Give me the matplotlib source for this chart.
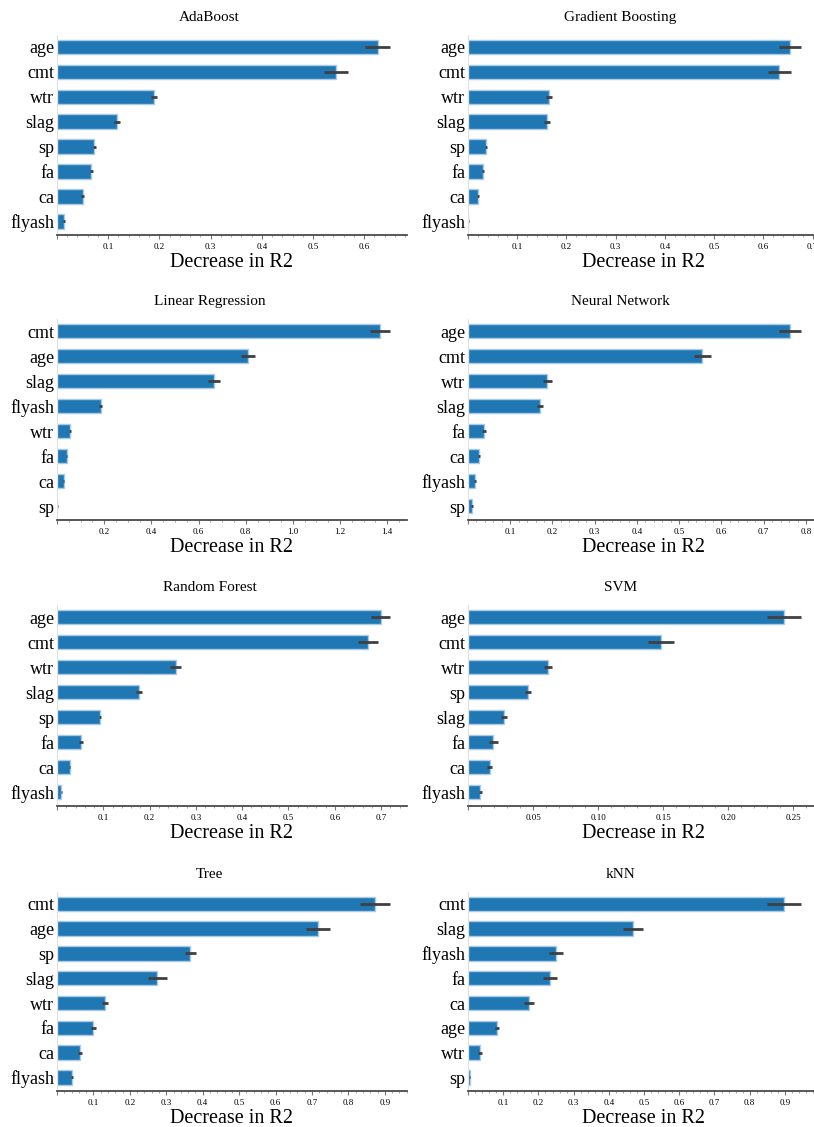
import numpy as np
import matplotlib
matplotlib.use("Agg")
import matplotlib.pyplot as plt
from matplotlib.ticker import AutoMinorLocator, MaxNLocator, ScalarFormatter

plt.rcParams['font.family'] = ['Liberation Serif', 'DejaVu Serif']

# permutation importance per model: feature order, mean drop in R2, spread
ada_feats = ["age", "cmt", "wtr", "slag", "sp", "fa", "ca", "flyash"]
ada_vals = [0.626, 0.545, 0.190, 0.117, 0.073, 0.067, 0.050, 0.014]
ada_errs = [0.025, 0.023, 0.006, 0.006, 0.003, 0.003, 0.003, 0.002]

gb_feats = ["age", "cmt", "wtr", "slag", "sp", "fa", "ca", "flyash"]
gb_vals = [0.654, 0.632, 0.164, 0.160, 0.036, 0.030, 0.021, 0.001]
gb_errs = [0.023, 0.023, 0.006, 0.006, 0.002, 0.002, 0.002, 0.0005]

lr_feats = ["cmt", "age", "slag", "flyash", "wtr", "fa", "ca", "sp"]
lr_vals = [1.369, 0.811, 0.666, 0.185, 0.055, 0.042, 0.028, 0.002]
lr_errs = [0.044, 0.030, 0.026, 0.005, 0.003, 0.002, 0.002, 0.0005]

nn_feats = ["age", "cmt", "wtr", "slag", "fa", "ca", "flyash", "sp"]
nn_vals = [0.763, 0.554, 0.188, 0.171, 0.037, 0.026, 0.0165, 0.0087]
nn_errs = [0.026, 0.020, 0.011, 0.007, 0.005, 0.002, 0.002, 0.002]

rf_feats = ["age", "cmt", "wtr", "slag", "sp", "fa", "ca", "flyash"]
rf_vals = [0.699, 0.672, 0.256, 0.177, 0.093, 0.052, 0.027, 0.009]
rf_errs = [0.021, 0.021, 0.012, 0.006, 0.003, 0.004, 0.002, 0.001]

svm_feats = ["age", "cmt", "wtr", "sp", "slag", "fa", "ca", "flyash"]
svm_vals = [0.2431, 0.1486, 0.0615, 0.0462, 0.0275, 0.0196, 0.0167, 0.0096]
svm_errs = [0.0133, 0.0100, 0.0030, 0.0020, 0.0025, 0.0033, 0.0020, 0.0015]

tree_feats = ["cmt", "age", "sp", "slag", "wtr", "fa", "ca", "flyash"]
tree_vals = [0.874, 0.716, 0.366, 0.275, 0.132, 0.100, 0.0635, 0.0406]
tree_errs = [0.041, 0.033, 0.015, 0.026, 0.008, 0.006, 0.0055, 0.002]

knn_feats = ["cmt", "slag", "flyash", "fa", "ca", "age", "wtr", "sp"]
knn_vals = [0.898, 0.469, 0.251, 0.233, 0.1736, 0.083, 0.033, 0.005]
knn_errs = [0.0486, 0.028, 0.020, 0.021, 0.014, 0.006, 0.006, 0.001]

panels = [
    ("AdaBoost", ada_feats, ada_vals, ada_errs),
    ("Gradient Boosting", gb_feats, gb_vals, gb_errs),
    ("Linear Regression", lr_feats, lr_vals, lr_errs),
    ("Neural Network", nn_feats, nn_vals, nn_errs),
    ("Random Forest", rf_feats, rf_vals, rf_errs),
    ("SVM", svm_feats, svm_vals, svm_errs),
    ("Tree", tree_feats, tree_vals, tree_errs),
    ("kNN", knn_feats, knn_vals, knn_errs),
]


class NoZeroFormatter(ScalarFormatter):
    # plain tick numbers, but leave the origin unlabeled
    def __call__(self, x, pos=None):
        if abs(x) < 1e-12:
            return ""
        return super().__call__(x, pos)


W, H = 814, 1127
fig = plt.figure(figsize=(W / 100, H / 100), dpi=100)

col_x = [57, 468]
row_y = [(35, 235), (319, 520), (605, 806), (892, 1091)]
ax_w = 350

for i, (title, feats, vals, errs) in enumerate(panels):
    r, c = divmod(i, 2)
    top, bot = row_y[r]
    ax = fig.add_axes([col_x[c] / W, 1 - bot / H, ax_w / W, (bot - top) / H])
    pos = np.arange(len(feats))
    ax.barh(pos, vals, height=0.58, xerr=errs, color="#1f77b4",
            edgecolor="#a9cbe8", linewidth=1.0,
            error_kw=dict(ecolor="#404040", elinewidth=2, capsize=0))
    ax.set_yticks(pos)
    ax.set_yticklabels(feats, fontsize=13)
    ax.set_ylim(len(feats) - 0.45, -0.48)
    # title centred over the panel including its feature labels
    ax.set_title(title, fontsize=11, pad=10, x=0.436)
    ax.set_xlabel("Decrease in R2", fontsize=14.5, labelpad=1)

    ax.spines["top"].set_visible(False)
    ax.spines["right"].set_visible(False)
    ax.spines["left"].set_color("#e0e0e0")
    ax.spines["bottom"].set_color("#4a4a4a")
    ax.spines["bottom"].set_linewidth(1.3)
    ax.tick_params(axis="y", length=0, pad=2)
    ax.tick_params(axis="x", labelsize=6.5, length=3, width=0.8,
                   color="#777777", pad=3)
    ax.tick_params(axis="x", which="minor", length=1.5, width=0.6,
                   color="#999999")
    ax.xaxis.set_major_locator(MaxNLocator(nbins=10, steps=[1, 2, 5, 10]))
    ax.xaxis.set_minor_locator(AutoMinorLocator())
    ax.xaxis.set_major_formatter(NoZeroFormatter())

fig.savefig("out.png", dpi=100)
